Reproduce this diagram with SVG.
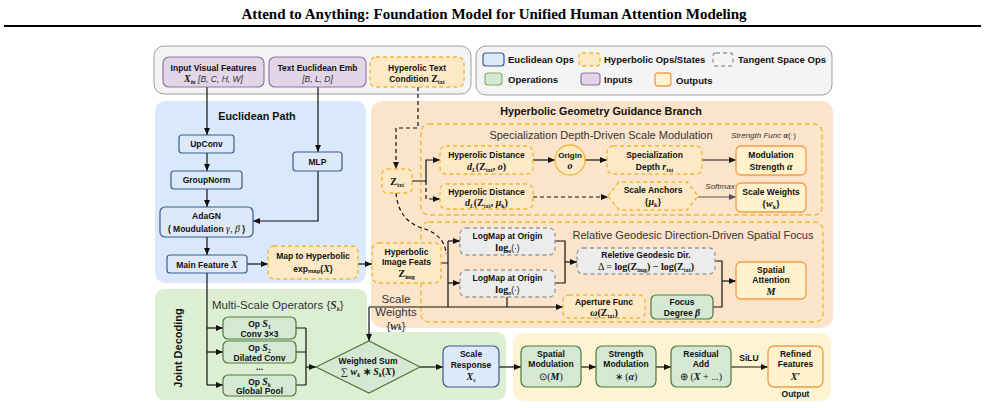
<svg xmlns="http://www.w3.org/2000/svg" width="985" height="408" viewBox="0 0 985 408">
<defs>
<marker id="ah" markerWidth="7" markerHeight="6" refX="7" refY="3" orient="auto" markerUnits="userSpaceOnUse"><path d="M0,0 L7,3 L0,6 z" fill="#111"/></marker>
<marker id="ahg" markerWidth="7" markerHeight="6" refX="7" refY="3" orient="auto" markerUnits="userSpaceOnUse"><path d="M0,0 L7,3 L0,6 z" fill="#555"/></marker>
<style>
.sb{font-family:"Liberation Sans",Arial,sans-serif;font-weight:bold;font-size:8.5px;fill:#111;text-anchor:middle}
.sr{font-family:"Liberation Sans",Arial,sans-serif;fill:#333}
.mi{font-family:"Liberation Serif","Times New Roman",serif;font-style:italic;font-weight:bold}
.mb{font-family:"Liberation Serif","Times New Roman",serif;font-weight:bold}
.sub{font-size:6px}
.it{font-style:italic;font-weight:normal}
.pin{fill:#f4f4f4;stroke:#9e9e9e;stroke-width:1}
.blue{fill:#dde9f9;stroke:#3b5b8f;stroke-width:1.2}
.green{fill:#d5e8d4;stroke:#4e7a3a;stroke-width:1.2}
.purple{fill:#e1d5e7;stroke:#9673a6;stroke-width:1.2}
.hyp{fill:#fde9c6;stroke:#f0b830;stroke-width:1.3;stroke-dasharray:4 3}
.hsub{fill:none;stroke:#f0b830;stroke-width:1.3;stroke-dasharray:5 3}
.tan{fill:#ececec;stroke:#9a9a9a;stroke-width:1.3;stroke-dasharray:4 3}
.out{fill:#fff2cc;stroke:#f39c4a;stroke-width:1.3}
.c{fill:none;stroke:#111;stroke-width:1.2}
.d{stroke-dasharray:4 3}
.ar{marker-end:url(#ah)}
</style>
</defs>

<!-- title -->
<text x="494" y="19" text-anchor="middle" font-family="Liberation Serif,Times New Roman,serif" font-weight="bold" font-size="15" fill="#000">Attend to Anything: Foundation Model for Unified Human Attention Modeling</text>
<line x1="4" y1="26" x2="981" y2="26" stroke="#000" stroke-width="2"/>

<!-- panels -->
<g id="inputs-panel"><rect x="154" y="46" width="317" height="48" rx="10" class="pin"/></g>
<g id="legend">
<rect x="476" y="46" width="356" height="49" rx="10" class="pin"/>
<rect x="483" y="53" width="21" height="13" rx="3" class="blue"/>
<text x="508" y="63" class="sb" style="text-anchor:start;font-size:9.5px">Euclidean Ops</text>
<rect x="579" y="53" width="21" height="13" rx="3" class="hyp"/>
<text x="604" y="63" class="sb" style="text-anchor:start;font-size:9.5px">Hyperbolic Ops/States</text>
<rect x="713" y="53" width="20" height="13" rx="3" class="tan" style="fill:#f4f4f4"/>
<text x="738" y="63" class="sb" style="text-anchor:start;font-size:9.5px">Tangent Space Ops</text>
<rect x="485" y="73" width="17" height="12" rx="3" class="green" style="stroke:#82b366"/>
<text x="508" y="83" class="sb" style="text-anchor:start;font-size:9.5px">Operations</text>
<rect x="581" y="73" width="19" height="12" rx="3" class="purple"/>
<text x="604" y="83" class="sb" style="text-anchor:start;font-size:9.5px">Inputs</text>
<rect x="655" y="73" width="16" height="13" rx="3" class="out"/>
<text x="676" y="84" class="sb" style="text-anchor:start;font-size:9.5px">Outputs</text>
</g>

<g id="euclidean-panel">
<rect x="155" y="101" width="211" height="182" rx="10" fill="#dae8fc"/>
<text x="257" y="120" class="sb" style="font-size:10.8px">Euclidean Path</text>
</g>
<g id="joint-panel">
<path d="M165,289 H357 Q367,289 367,299 V332 H496 Q506,332 506,342 V390 Q506,400 496,400 H165 Q155,400 155,390 V299 Q155,289 165,289 Z" fill="#dcefd3"/>
<text transform="translate(182,348) rotate(-90)" class="sb" style="font-size:11px">Joint Decoding</text>
<text x="212" y="309" class="sr" font-size="11.5">Multi-Scale Operators {<tspan class="mi">S</tspan><tspan class="mi sub" dy="2">k</tspan><tspan dy="-2">}</tspan></text>
</g>
<g id="hyperbolic-panel">
<rect x="371" y="101" width="462" height="227" rx="12" fill="#fce4cb"/>
<text x="601" y="115" class="sb" style="font-size:10.8px">Hyperbolic Geometry Guidance Branch</text>
<rect x="421" y="124" width="401" height="91" rx="8" class="hsub"/>
<text x="601" y="139" class="sr" font-size="11" text-anchor="middle">Specialization Depth-Driven Scale Modulation</text>
<text x="731" y="138" class="sr" font-size="8" font-style="italic">Strength Func <tspan class="mi">α</tspan><tspan font-style="normal">(·)</tspan></text>
<rect x="421" y="222" width="402" height="100" rx="8" class="hsub"/>
<text x="693" y="239" class="sr" font-size="11" text-anchor="middle">Relative Geodesic Direction-Driven Spatial Focus</text>
</g>
<g id="output-panel"><rect x="513" y="333" width="318" height="68" rx="10" fill="#fff3d2"/></g>

<!-- connectors -->
<g id="connectors">
<path d="M207,87 V135" class="c ar"/>
<path d="M207,153 V171" class="c ar"/>
<path d="M207,189 V207" class="c ar"/>
<path d="M207,237 V255" class="c ar"/>
<path d="M318,87 V152" class="c ar"/>
<path d="M318,171 V221 H253" class="c ar"/>
<path d="M247,264 H268" class="c ar"/>
<path d="M358,264 H372" class="c ar"/>
<path d="M207,273 V385" class="c"/>
<path d="M207,328 H223" class="c ar"/>
<path d="M207,352 H223" class="c ar"/>
<path d="M207,385 H223" class="c ar"/>
<path d="M296,328 H306 M296,352 H306 M296,385 H306 M306,328 V385" class="c"/>
<path d="M306,367 H316" class="c ar"/>
<path d="M418,87 V128 H396 V169" class="c d ar"/>
<path d="M412,181 H426 V160 H440" class="c ar"/>
<path d="M426,181 V199 H440" class="c d ar"/>
<path d="M533,160 H555" class="c ar"/>
<path d="M585,160 H607" class="c ar"/>
<path d="M702,160 H736" class="c ar"/>
<path d="M533,197 H608" class="c d ar"/>
<path d="M698,197 H736" fill="none" stroke="#555" stroke-width="1.2" marker-end="url(#ahg)"/>
<path d="M396,193 C398,215 410,225 425,229 C440,234 446,245 446,254" class="c d"/>
<path d="M441,263 H448 M448,241 V307" class="c"/>
<path d="M448,241 H460" class="c ar"/>
<path d="M448,283 H460" class="c ar"/>
<path d="M507,297 V307" class="c"/>
<path d="M369,307 H563" class="c ar"/>
<path d="M369,307 V341" class="c ar"/>
<path d="M555,241 H565 V283 H555" class="c"/>
<path d="M565,262 H577" class="c ar"/>
<path d="M715,261 H722 V307 H713" class="c"/>
<path d="M722,281 H736" class="c ar"/>
<path d="M420,367 H443" class="c ar"/>
<path d="M499,367 H521" class="c ar"/>
<path d="M581,367 H596" class="c ar"/>
<path d="M656,367 H671" class="c ar"/>
<path d="M731,367 H768" class="c ar"/>
</g>

<!-- inputs -->
<g id="input-visual">
<rect x="163" y="57" width="101" height="30" rx="6" class="purple"/>
<text x="213.5" y="71" class="sb">Input Visual Features</text>
<text x="213.5" y="82" class="sb"><tspan class="mi" font-size="10">X</tspan><tspan class="mi sub" dy="2">in</tspan><tspan dy="-2" class="it" fill="#333"> [B, C, H, W]</tspan></text>
</g>
<g id="text-emb">
<rect x="269" y="57" width="97" height="30" rx="6" class="purple"/>
<text x="317.5" y="71" class="sb">Text Euclidean Emb</text>
<text x="317.5" y="82" class="sb"><tspan class="it" fill="#333">[B, L, D]</tspan></text>
</g>
<g id="hyp-text-cond">
<rect x="370" y="57" width="94" height="30" rx="6" class="hyp"/>
<text x="417" y="71" class="sb">Hyperolic Text</text>
<text x="417" y="82" class="sb">Condition <tspan class="mb" font-size="10">Z</tspan><tspan class="mb sub" dy="2">txt</tspan></text>
</g>

<!-- euclidean -->
<g id="upconv"><rect x="179" y="135" width="55" height="18" rx="3" class="blue"/><text x="206.5" y="147" class="sb">UpConv</text></g>
<g id="groupnorm"><rect x="171" y="171" width="71" height="18" rx="3" class="blue"/><text x="206.5" y="183" class="sb">GroupNorm</text></g>
<g id="adagn"><rect x="160" y="207" width="93" height="30" rx="5" class="blue"/><text x="206.5" y="219" class="sb">AdaGN</text><text x="206.5" y="232" class="sb">( Moudulation <tspan class="mi" style="font-weight:normal" font-size="10">γ, β</tspan> )</text></g>
<g id="mlp"><rect x="293" y="152" width="49" height="19" rx="3" class="blue"/><text x="317.5" y="165" class="sb">MLP</text></g>
<g id="main-feature"><rect x="167" y="255" width="80" height="18" rx="3" class="blue"/><text x="207" y="267.5" class="sb">Main Feature <tspan class="mi" font-size="10">X</tspan></text></g>
<g id="map-hyp"><rect x="268" y="246" width="90" height="33" rx="6" class="hyp"/><text x="313" y="259" class="sb">Map to Hyperbolic</text><text x="313" y="272" class="sb">exp<tspan class="sub" dy="1">map</tspan><tspan dy="-1">(</tspan><tspan class="mi" font-size="10">X</tspan>)</text></g>

<!-- hyperbolic branch -->
<g id="z-txt"><rect x="382" y="169" width="30" height="24" rx="5" class="hyp"/><text x="397" y="185" class="sb"><tspan class="mb" font-size="10.5">Z</tspan><tspan class="mb sub" dy="2">txt</tspan></text></g>
<g id="hdist1"><rect x="440" y="146" width="93" height="28" rx="6" class="hyp"/><text x="486.5" y="158" class="sb">Hyperolic Distance</text><text x="486.5" y="170" class="sb"><tspan class="mi" font-size="10">d</tspan><tspan class="mi sub" dy="2">L</tspan><tspan dy="-2" class="mb" font-size="10">(Z</tspan><tspan class="mb sub" dy="2">txt</tspan><tspan dy="-2" class="mb" font-size="10">, </tspan><tspan class="mi" font-size="10">o</tspan><tspan class="mb" font-size="10">)</tspan></text></g>
<g id="origin"><circle cx="570" cy="160" r="15" fill="#fde9c6" stroke="#f0b830" stroke-width="1.3"/><text x="570" y="158" class="sb" style="font-size:8px">Origin</text><text x="570" y="169" class="sb"><tspan class="mi" font-size="10">o</tspan></text></g>
<g id="spec-depth"><rect x="607" y="146" width="95" height="28" rx="6" class="hyp"/><text x="654.5" y="158" class="sb">Specialization</text><text x="654.5" y="170" class="sb">Depth <tspan class="mi" font-size="10">r</tspan><tspan class="mb sub" dy="2">txt</tspan></text></g>
<g id="mod-strength"><rect x="736" y="146" width="70" height="29" rx="5" class="out"/><text x="771" y="158" class="sb">Modulation</text><text x="771" y="170" class="sb">Strength <tspan class="mi" font-size="10">α</tspan></text></g>
<g id="hdist2"><rect x="440" y="184" width="93" height="25" rx="6" class="hyp"/><text x="486.5" y="195" class="sb">Hyperolic Distance</text><text x="486.5" y="206" class="sb"><tspan class="mi" font-size="10">d</tspan><tspan class="mi sub" dy="2">L</tspan><tspan dy="-2" class="mb" font-size="10">(Z</tspan><tspan class="mb sub" dy="2">txt</tspan><tspan dy="-2" class="mb" font-size="10">, </tspan><tspan class="mi" font-size="10">μ</tspan><tspan class="mb sub" dy="2">k</tspan><tspan dy="-2" class="mb" font-size="10">)</tspan></text></g>
<g id="scale-anchors"><polygon points="608,196 619,182 687,182 698,196 687,210 619,210" class="hyp"/><text x="653" y="193" class="sb">Scale Anchors</text><text x="653" y="205" class="sb"><tspan class="mb" font-size="10">{</tspan><tspan class="mi" font-size="10">μ</tspan><tspan class="mb sub" dy="2">k</tspan><tspan dy="-2" class="mb" font-size="10">}</tspan></text></g>
<g id="softmax"><text x="720" y="189" class="sr" font-size="8" font-style="italic" text-anchor="middle">Softmax</text></g>
<g id="scale-weights"><rect x="736" y="183" width="70" height="29" rx="5" class="out"/><text x="771" y="195" class="sb">Scale Weights</text><text x="771" y="207" class="sb"><tspan class="mb" font-size="10">{</tspan><tspan class="mi" font-size="10">w</tspan><tspan class="mb sub" dy="2">k</tspan><tspan dy="-2" class="mb" font-size="10">}</tspan></text></g>

<g id="z-img"><rect x="372" y="243" width="69" height="40" rx="7" class="hyp"/><text x="406.5" y="255" class="sb">Hyperbolic</text><text x="406.5" y="265" class="sb">Image Feats</text><text x="406.5" y="277" class="sb"><tspan class="mb" font-size="10.5">Z</tspan><tspan class="mb sub" dy="2">img</tspan></text></g>
<g id="logmap1"><rect x="460" y="228" width="95" height="27" rx="6" class="tan"/><text x="507.5" y="239" class="sb">LogMap at Origin</text><text x="507.5" y="251" class="sb"><tspan class="mb" font-size="10">log</tspan><tspan class="mi sub" dy="2">o</tspan><tspan dy="-2" font-weight="normal">(·)</tspan></text></g>
<g id="logmap2"><rect x="460" y="270" width="95" height="27" rx="6" class="tan"/><text x="507.5" y="281" class="sb">LogMap at Origin</text><text x="507.5" y="293" class="sb"><tspan class="mb" font-size="10">log</tspan><tspan class="mi sub" dy="2">o</tspan><tspan dy="-2" font-weight="normal">(·)</tspan></text></g>
<g id="rel-geo"><rect x="577" y="248" width="138" height="26" rx="6" class="tan"/><text x="646" y="258" class="sb">Reletive Geodesic Dir.</text><text x="646" y="270" class="sb"><tspan class="mb" style="font-weight:normal" font-size="10">Δ = </tspan><tspan class="mb" font-size="10">log(Z</tspan><tspan class="mb sub" dy="2">img</tspan><tspan dy="-2" class="mb" font-size="10">) − log(Z</tspan><tspan class="mb sub" dy="2">txt</tspan><tspan dy="-2" class="mb" font-size="10">)</tspan></text></g>
<g id="spatial-attn"><rect x="736" y="262" width="70" height="37" rx="5" class="out"/><text x="771" y="273" class="sb">Spatial</text><text x="771" y="283" class="sb">Attention</text><text x="771" y="295" class="sb"><tspan class="mi" font-size="10">M</tspan></text></g>
<g id="aperture"><rect x="563" y="295" width="82" height="23" rx="6" class="hyp"/><text x="604" y="305" class="sb">Aperture Func</text><text x="604" y="315.5" class="sb"><tspan class="mi" font-size="10">ω</tspan><tspan class="mb" font-size="10">(Z</tspan><tspan class="mb sub" dy="2">txt</tspan><tspan dy="-2" class="mb" font-size="10">)</tspan></text></g>
<g id="focus"><rect x="651" y="295" width="62" height="24" rx="5" class="green"/><text x="682" y="305" class="sb">Focus</text><text x="682" y="316" class="sb">Degree <tspan class="mi" font-size="10">β</tspan></text></g>
<g id="scale-weights-label"><text x="396" y="303" class="sr" font-size="11.5" text-anchor="middle" fill="#222">Scale</text><text x="396" y="316" class="sr" font-size="11.5" text-anchor="middle" fill="#222">Weights</text><text x="396" y="329.5" class="sr" font-size="11.5" text-anchor="middle" fill="#222">{<tspan class="mi">w</tspan><tspan class="mi" font-size="7.5">k</tspan>}</text></g>

<!-- joint decoding -->
<g id="op-s1"><rect x="223" y="317" width="73" height="22" rx="5" class="green"/><text x="259.5" y="327" class="sb">Op <tspan class="mi" font-size="10">S</tspan><tspan class="mb sub" dy="2">1</tspan></text><text x="259.5" y="337" class="sb">Conv 3×3</text></g>
<g id="op-s2"><rect x="223" y="341" width="73" height="22" rx="5" class="green"/><text x="259.5" y="351" class="sb">Op <tspan class="mi" font-size="10">S</tspan><tspan class="mb sub" dy="2">2</tspan></text><text x="259.5" y="361" class="sb">Dilated Conv</text></g>
<g id="ellipsis"><text x="259.5" y="370" class="sb">...</text></g>
<g id="op-sk"><rect x="223" y="375" width="73" height="21" rx="5" class="green"/><text x="259.5" y="384.5" class="sb">Op <tspan class="mi" font-size="10">S</tspan><tspan class="mi sub" dy="2">k</tspan></text><text x="259.5" y="394" class="sb">Global Pool</text></g>
<g id="weighted-sum"><polygon points="316,367 369,341 420,367 369,393" class="green"/><text x="368" y="364" class="sb">Weighted Sum</text><text x="368" y="375" class="sb"><tspan class="mb" font-size="10" style="font-weight:normal">∑ </tspan><tspan class="mi" font-size="10">w</tspan><tspan class="mi sub" dy="2">k</tspan><tspan dy="-2" class="mb" font-size="10"> ∗ </tspan><tspan class="mi" font-size="10">S</tspan><tspan class="mi sub" dy="2">k</tspan><tspan dy="-2" class="mb" font-size="10">(</tspan><tspan class="mi" font-size="10">X</tspan><tspan class="mb" font-size="10">)</tspan></text></g>
<g id="scale-response"><rect x="443" y="346" width="56" height="41" rx="6" class="blue"/><text x="471" y="357" class="sb">Scale</text><text x="471" y="368" class="sb">Response</text><text x="471" y="380" class="sb"><tspan class="mi" font-size="10">X</tspan><tspan class="mi sub" dy="2">s</tspan></text></g>
<g id="spatial-mod"><rect x="521" y="346" width="60" height="41" rx="6" class="green"/><text x="551" y="357" class="sb">Spatial</text><text x="551" y="367" class="sb">Modulation</text><text x="551" y="380" class="sb"><tspan class="mb" font-size="10" style="font-weight:normal">⊙(</tspan><tspan class="mi" font-size="10">M</tspan><tspan class="mb" font-size="10" style="font-weight:normal">)</tspan></text></g>
<g id="strength-mod"><rect x="596" y="346" width="60" height="41" rx="6" class="green"/><text x="626" y="357" class="sb">Strength</text><text x="626" y="367" class="sb">Modulation</text><text x="626" y="380" class="sb"><tspan class="mb" font-size="10" style="font-weight:normal">∗ (</tspan><tspan class="mi" font-size="10">α</tspan><tspan class="mb" font-size="10" style="font-weight:normal">)</tspan></text></g>
<g id="residual"><rect x="671" y="346" width="60" height="41" rx="6" class="green"/><text x="701" y="357" class="sb">Residual</text><text x="701" y="367" class="sb">Add</text><text x="701" y="380" class="sb"><tspan class="mb" font-size="10" style="font-weight:normal">⊕ (</tspan><tspan class="mi" font-size="10">X</tspan><tspan class="mb" font-size="10" style="font-weight:normal"> + ...)</tspan></text></g>
<g id="silu"><text x="749" y="361" class="sb">SiLU</text></g>
<g id="refined"><rect x="768" y="346" width="55" height="41" rx="6" class="out"/><text x="795.5" y="357" class="sb">Refined</text><text x="795.5" y="367" class="sb">Features</text><text x="795.5" y="380" class="sb"><tspan class="mi" font-size="10">X</tspan><tspan class="mb" font-size="10">′</tspan></text></g>
<g id="output-label"><text x="795.5" y="397" class="sb">Output</text></g>
</svg>
